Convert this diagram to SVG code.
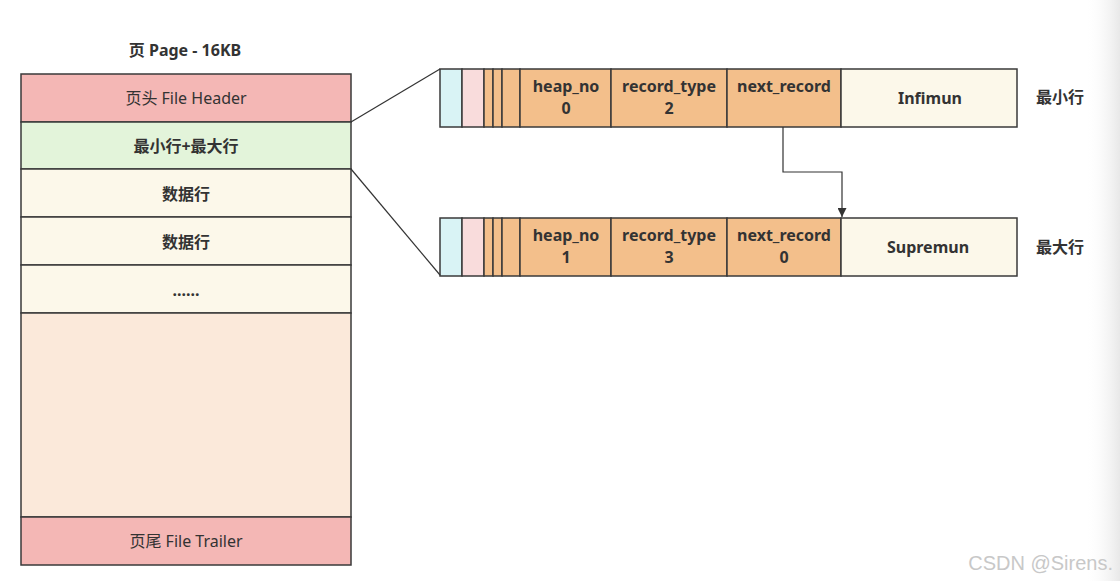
<svg xmlns="http://www.w3.org/2000/svg" width="1120" height="581" viewBox="0 0 1120 581">
<defs>
<style>
.b{stroke:#3a3a3a;stroke-width:1.5}
.t{font-family:"Noto Sans","Noto Sans CJK SC",sans-serif;font-size:16px;fill:#333;text-anchor:middle}
.bd{font-weight:bold}
.c{fill:none;stroke:#333;stroke-width:1.2}
</style>
<marker id="ah" viewBox="0 0 10 10" refX="10" refY="5" markerWidth="9" markerHeight="9" markerUnits="userSpaceOnUse" orient="auto"><path d="M0,0 L10,5 L0,10 Z" fill="#333"/></marker>
<linearGradient id="sh" x1="0" x2="1" y1="0" y2="0"><stop offset="0" stop-color="#fff" stop-opacity="0"/><stop offset="1" stop-color="#e8e8e8"/></linearGradient>
</defs>
<rect width="1120" height="581" fill="#fff"/>
<rect x="1085" y="0" width="35" height="581" fill="url(#sh)"/>
<text class="t bd" x="185" y="56">页 Page - 16KB</text>
<g id="page">
<rect class="b" x="21" y="74" width="330" height="48" fill="#f4b7b5"/>
<text class="t" x="186" y="104">页头 File Header</text>
<rect class="b" x="21" y="122" width="330" height="47" fill="#e3f4da"/>
<text class="t bd" x="186" y="152">最小行+最大行</text>
<rect class="b" x="21" y="169" width="330" height="48" fill="#fcf8ea"/>
<text class="t bd" x="186" y="200">数据行</text>
<rect class="b" x="21" y="217" width="330" height="48" fill="#fcf8ea"/>
<text class="t bd" x="186" y="248">数据行</text>
<rect class="b" x="21" y="265" width="330" height="48" fill="#fcf8ea"/>
<text class="t bd" x="186" y="296">......</text>
<rect class="b" x="21" y="313" width="330" height="204" fill="#fbe9da"/>
<rect class="b" x="21" y="517" width="330" height="48" fill="#f4b7b5"/>
<text class="t" x="186" y="547">页尾 File Trailer</text>
</g>
<g id="infimum">
<rect class="b" x="440" y="69" width="22" height="58" fill="#d9f3f5"/>
<rect class="b" x="462" y="69" width="22" height="58" fill="#f9dcdc"/>
<rect class="b" x="484" y="69" width="9" height="58" fill="#f3bf8b"/>
<rect class="b" x="493" y="69" width="9" height="58" fill="#f3bf8b"/>
<rect class="b" x="502" y="69" width="18" height="58" fill="#f3bf8b"/>
<rect class="b" x="520" y="69" width="91" height="58" fill="#f3bf8b"/>
<rect class="b" x="611" y="69" width="116" height="58" fill="#f3bf8b"/>
<rect class="b" x="727" y="69" width="114" height="58" fill="#f3bf8b"/>
<rect class="b" x="841" y="69" width="176" height="58" fill="#fcf8ea"/>
<text class="t bd" x="566" y="92">heap_no</text>
<text class="t bd" x="566" y="114">0</text>
<text class="t bd" x="669" y="92">record_type</text>
<text class="t bd" x="669" y="114">2</text>
<text class="t bd" x="784" y="92">next_record</text>
<text class="t bd" x="930" y="104">Infimun</text>
<text class="t bd" x="1060" y="103">最小行</text>
</g>
<g id="supremum">
<rect class="b" x="440" y="218" width="22" height="58" fill="#d9f3f5"/>
<rect class="b" x="462" y="218" width="22" height="58" fill="#f9dcdc"/>
<rect class="b" x="484" y="218" width="9" height="58" fill="#f3bf8b"/>
<rect class="b" x="493" y="218" width="9" height="58" fill="#f3bf8b"/>
<rect class="b" x="502" y="218" width="18" height="58" fill="#f3bf8b"/>
<rect class="b" x="520" y="218" width="91" height="58" fill="#f3bf8b"/>
<rect class="b" x="611" y="218" width="116" height="58" fill="#f3bf8b"/>
<rect class="b" x="727" y="218" width="114" height="58" fill="#f3bf8b"/>
<rect class="b" x="841" y="218" width="176" height="58" fill="#fcf8ea"/>
<text class="t bd" x="566" y="241">heap_no</text>
<text class="t bd" x="566" y="263">1</text>
<text class="t bd" x="669" y="241">record_type</text>
<text class="t bd" x="669" y="263">3</text>
<text class="t bd" x="784" y="241">next_record</text>
<text class="t bd" x="784" y="263">0</text>
<text class="t bd" x="928" y="253">Supremun</text>
<text class="t bd" x="1060" y="253">最大行</text>
</g>
<g id="connectors">
<line class="c" x1="351" y1="122" x2="440" y2="69"/>
<line class="c" x1="351" y1="169" x2="440" y2="275"/>
<polyline class="c" points="783,127 783,172 842,172 842,217" marker-end="url(#ah)"/>
</g>
<text x="1113" y="570" font-family="Liberation Sans,Arial,sans-serif" font-size="20" fill="#c8c8c8" text-anchor="end">CSDN @Sirens.</text>
</svg>
